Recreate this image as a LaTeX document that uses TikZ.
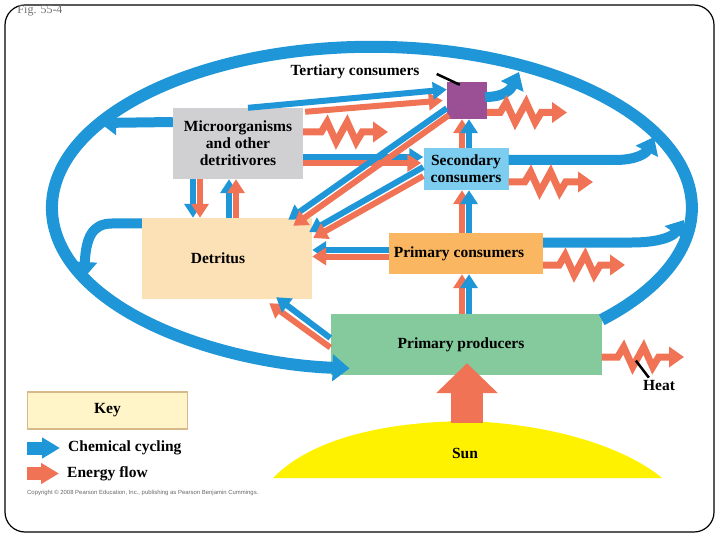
\documentclass[tikz,border=0pt]{standalone}
\usepackage{fontspec}
\setmainfont{Liberation Serif}
\newfontfamily\cpfont{Liberation Sans}
\usetikzlibrary{arrows.meta,calc}
\definecolor{cblue}{RGB}{30,150,215}
\definecolor{corange}{RGB}{240,115,85}
\definecolor{cpurple}{RGB}{155,80,150}
\definecolor{cgray}{RGB}{208,208,210}
\definecolor{csec}{RGB}{125,205,240}
\definecolor{cdet}{RGB}{253,225,182}
\definecolor{cpc}{RGB}{250,182,96}
\definecolor{cprod}{RGB}{132,202,156}
\definecolor{csun}{RGB}{255,242,0}
\definecolor{ckey}{RGB}{255,245,200}
\definecolor{ckeyb}{RGB}{215,185,140}
\newcommand\lblfont{\fontsize{15.5}{17}\selectfont\bfseries}
\tikzset{
  box/.style={inner sep=0pt, align=center, font=\lblfont},
  lbl/.style={inner sep=0pt, font=\lblfont},
  pb/.style={draw=cblue, line width=6pt, -{Triangle[width=17pt,length=14pt]}},
  po/.style={draw=corange, line width=6pt, -{Triangle[width=17pt,length=14pt]}},
  cb/.style={draw=cblue, line width=10pt, -{Triangle[width=24pt,length=16pt]}},
  zz/.style={draw=corange, line width=7pt, line join=miter, -{Triangle[width=20pt,length=15pt]}},
  leader/.style={draw=black, line width=2.5pt},
}
\begin{document}
\begin{tikzpicture}[x=1pt,y=1pt]
\useasboundingbox (0,0) rectangle (720,-540);
\draw[line width=1.2pt, rounded corners=20pt] (5,-5) rectangle (714,-532);
\node[inner sep=0pt, font=\fontsize{12}{14}\selectfont, text=black!55] (fig) at (40,-11) {Fig. 55-4};

% boxes
\node[box, fill=cpurple, minimum width=40, minimum height=37] (tert) at (467,-100.5) {};
\node[box, fill=cgray, minimum width=130, minimum height=71] (micro) at (238,-143.5) {Microorganisms\\and other\\detritivores};
\node[box, fill=csec, minimum width=85, minimum height=42] (sec) at (466,-169) {Secondary\\consumers};
\node[box, fill=cdet, minimum width=170, minimum height=81] (det) at (227,-258.5) {Detritus\hspace*{18pt}};
\node[box, fill=cpc, minimum width=154, minimum height=41] (pc) at (466,-253.5) {Primary consumers\hspace*{14pt}};
\node[box, fill=cprod, minimum width=271, minimum height=61] (prod) at (466,-344.5) {Primary producers\hspace*{10pt}};

% sun
\fill[csun] (273,-478) .. controls (310,-440) and (380,-422) .. (467,-421)
  .. controls (570,-425) and (635,-455) .. (662,-478) -- cycle;
\node[lbl] (sunl) at (465,-453) {Sun};
\coordinate (suntop) at (467,-423);
\draw[corange, line width=32pt, -{Triangle[width=60pt,length=30pt]}] (suntop) -- ($(prod.south)+(1,12)$);

% big cycle
\draw[cblue, line width=12pt, -{Triangle[width=26pt,length=17pt]}]
  ($(prod.north east)+(0,-6)$) arc[start angle=-44.1, end angle=266, x radius=320, y radius=161];

% labels
\node[lbl] (tlab) at (355,-72) {Tertiary consumers};
\draw[leader] ($(tlab.east)+(17,-2)$) -- ($(tert.north west)+(13,-3)$);
\node[lbl] (heat) at (659,-385) {Heat};

% coordinates on the cycle and heat ends
\coordinate (e1) at (519,-72);
\coordinate (e2) at (654,-137);
\coordinate (e3) at (684,-220);
\coordinate (e4) at (100,-123);
\coordinate (e5) at (84,-278);
\coordinate (h1) at (388,-132);
\coordinate (h2) at (567,-112.5);
\coordinate (h3) at (593,-182);
\coordinate (h4) at (625,-265);
\coordinate (h5) at (684,-357);

% chemical cycling to the big loop
\draw[cb] ($(tert.east)+(-2,3.5)$) .. controls (505,-97) and (511,-89) .. (e1);
\draw[cb] ($(sec.east)+(0,9)$) -- (615,-160) .. controls (637,-160) and (646,-153) .. (e2);
\draw[cb] ($(pc.east)+(0,11)$) -- (632,-242.5) .. controls (660,-242.5) and (673,-236) .. (e3);
\draw[cb] ($(micro.west)+(0,21.5)$) -- (e4);
\draw[cb] ($(det.west)+(0,35)$) -- (112,-223.5) .. controls (92,-223.5) and (86,-238) .. (e5);

% heat zigzags
\draw[zz] ($(micro.east)+(0,11.5)$) -- ++(18,0) -- ++(6,10) -- ++(9,-20) -- ++(11,20) -- ++(9,-20) -- ++(6,10) -- (h1);
\draw[zz] ($(tert.east)+(0,-12)$) -- ++(13,0) -- ++(6,10) -- ++(9,-20) -- ++(11,20) -- ++(9,-20) -- ++(6,10) -- (h2);
\draw[zz] ($(sec.east)+(0,-13)$) -- ++(16,0) -- ++(6,10) -- ++(9,-20) -- ++(11,20) -- ++(9,-20) -- ++(6,10) -- (h3);
\draw[zz] ($(pc.east)+(0,-11.5)$) -- ++(16,0) -- ++(6,10) -- ++(9,-20) -- ++(11,20) -- ++(9,-20) -- ++(6,10) -- (h4);
\draw[zz] ($(prod.east)+(0,-12.5)$) -- ++(16,0) -- ++(6,10) -- ++(9,-20) -- ++(11,20) -- ++(9,-20) -- ++(6,10) -- (h5);
\draw[leader] ($(heat.north west)+(6,2)$) -- ++(-13,17);

% paired arrows
\draw[po] ($(micro.north east)+(2,-4)$) -- ($(tert.west)+(-4,0)$);
\draw[pb] ($(micro.north)+(10,0)$) -- ($(tert.west)+(0,11)$);
\draw[pb] ($(micro.east)+(0,-13.5)$) -- ($(sec.west)+(0,12)$);
\draw[po] ($(micro.east)+(0,-19.5)$) -- ($(sec.west)+(-2,6)$);
\draw[pb] ($(tert.south west)+(0,11)$) -- ($(det.north east)+(-24,-2)$);
\draw[po] ($(tert.south west)+(2,4)$) -- ($(det.north east)+(-19,-8)$);
\draw[pb] ($(sec.west)+(0,2)$) -- ($(det.east)+(-3,26.5)$);
\draw[po] ($(sec.west)+(0,-7)$) -- ($(det.east)+(1,20.5)$);
\draw[pb] ($(pc.west)+(0,3.5)$) -- ($(det.east)+(0,8.5)$);
\draw[po] ($(pc.west)+(0,-3)$) -- ($(det.east)+(0,2)$);
\draw[po] ($(prod.west)+(0,-3)$) -- ($(det.south east)+(-43,-4)$);
\draw[pb] ($(prod.west)+(0,6.5)$) -- ($(det.south east)+(-36,2)$);
\draw[pb] ($(micro.south)+(-45,0)$) -- ($(det.north)+(-34,0)$);
\draw[po] ($(micro.south)+(-38,0)$) -- ($(det.north)+(-27,0)$);
\draw[pb] ($(det.north)+(2,0)$) -- ($(micro.south)+(-9,0)$);
\draw[po] ($(det.north)+(9,0)$) -- ($(micro.south)+(-2,0)$);
\draw[po] ($(prod.north)+(-4,0)$) -- ($(pc.south)+(-4,0)$);
\draw[pb] ($(prod.north)+(3,0)$) -- ($(pc.south)+(3,0)$);
\draw[po] ($(pc.north)+(-4,0)$) -- ($(sec.south)+(-4,0)$);
\draw[pb] ($(pc.north)+(3,0)$) -- ($(sec.south)+(3,0)$);
\draw[po] ($(sec.north)+(-4,0)$) -- ($(tert.south)+(-5,0)$);
\draw[pb] ($(sec.north)+(3,0)$) -- ($(tert.south)+(2,0)$);

% key
\node[box, draw=ckeyb, line width=1.5pt, fill=ckey, minimum width=160, minimum height=37] (key) at (107.5,-410.5) {Key};
\node[lbl, anchor=west] (chem) at (68,-448) {Chemical cycling};
\node[lbl, anchor=west] (energy) at (67,-474) {Energy flow};
\coordinate (lb) at (27,-448);
\coordinate (lo) at (27,-473.5);
\draw[draw=cblue, line width=13pt, -{Triangle[width=20pt,length=18pt]}] (lb) -- ($(chem.west)+(-8,0)$);
\draw[draw=corange, line width=13pt, -{Triangle[width=20pt,length=18pt]}] (lo) -- ($(energy.west)+(-8,0.5)$);
\node[anchor=west, inner sep=0pt, font=\cpfont\fontsize{5.95}{6.5}\selectfont, text=black!60] (copy) at (27,-492.5) {Copyright \textcopyright\ 2008 Pearson Education, Inc., publishing as Pearson Benjamin Cummings.};
\end{tikzpicture}
\end{document}
